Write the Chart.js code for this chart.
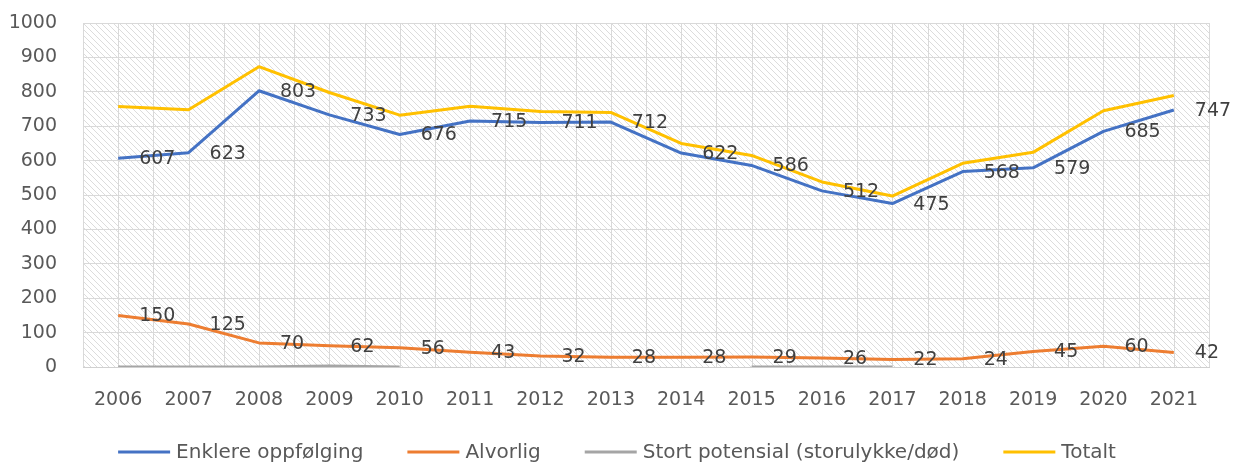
<!DOCTYPE html>
<html>
<head>
<meta charset="utf-8">
<script src="https://cdn.jsdelivr.net/npm/chart.js@4.4.0/dist/chart.umd.min.js"></script>
<style>
  html, body { margin: 0; padding: 0; background: #fff; }
</style>
</head>
<body>
<canvas id="chart" width="1234" height="464"></canvas>
<script>
// data
const years = ['2006', '2007', '2008', '2009', '2010', '2011', '2012', '2013', '2014', '2015', '2016', '2017', '2018', '2019', '2020', '2021'];
const seriesNames = ['Enklere oppfølging', 'Alvorlig', 'Stort potensial (storulykke/død)', 'Totalt'];
const enklere = [607, 623, 803, 733, 676, 715, 711, 712, 622, 586, 512, 475, 568, 579, 685, 747];
const alvorlig = [150, 125, 70, 62, 56, 43, 32, 28, 28, 29, 26, 22, 24, 45, 60, 42];
const stortPotensial = [0, 0, 0, 3, 0, null, null, null, null, 0, 0, 0, null, null, null, null];
const totalt = [757, 748, 873, 798, 732, 758, 743, 740, 650, 615, 538, 497, 592, 624, 745, 789];
const yTicks = [0, 100, 200, 300, 400, 500, 600, 700, 800, 900, 1000];

const colors = ['#4472C4', '#ED7D31', '#A5A5A5', '#FFC000'];
const fontFamily = '"DejaVu Sans", sans-serif';

// diagonal hatch for the plot area
function makeHatch() {
  const c = document.createElement('canvas');
  c.width = 6; c.height = 6;
  const g = c.getContext('2d');
  g.fillStyle = '#ffffff';
  g.fillRect(0, 0, 6, 6);
  g.strokeStyle = '#dcdcdc';
  g.lineWidth = 1;
  g.beginPath();
  g.moveTo(-1, -1); g.lineTo(7, 7);
  g.moveTo(5, -1); g.lineTo(7, 1);
  g.moveTo(-1, 5); g.lineTo(1, 7);
  g.stroke();
  return g.createPattern(c, 'repeat');
}

const plotBackground = {
  id: 'plotBackground',
  beforeDraw(chart) {
    const { ctx, chartArea: a } = chart;
    const x = chart.scales.x;
    ctx.save();
    ctx.fillStyle = '#ffffff';
    ctx.fillRect(0, 0, chart.width, chart.height);
    ctx.fillStyle = makeHatch();
    ctx.fillRect(a.left, a.top, a.right - a.left, a.bottom - a.top);
    // vertical grid: on each year and between years
    ctx.strokeStyle = '#d9d9d9';
    ctx.lineWidth = 1;
    ctx.beginPath();
    for (let i = 0; i <= years.length * 2; i++) {
      const px = Math.round(x.getPixelForValue(i / 2 - 0.5)) + 0.5;
      ctx.moveTo(px, a.top);
      ctx.lineTo(px, a.bottom);
    }
    ctx.stroke();
    ctx.restore();
  }
};

// value labels to the right of each point (first two series only)
const valueLabels = {
  id: 'valueLabels',
  afterDatasetsDraw(chart) {
    const ctx = chart.ctx;
    ctx.save();
    ctx.font = '19px ' + fontFamily;
    ctx.fillStyle = '#404040';
    ctx.textAlign = 'left';
    ctx.textBaseline = 'middle';
    [0, 1].forEach(di => {
      const meta = chart.getDatasetMeta(di);
      meta.data.forEach((pt, i) => {
        const v = chart.data.datasets[di].data[i];
        if (v == null) return;
        ctx.fillText(String(v), pt.x + 21, pt.y + 1);
      });
    });
    ctx.restore();
  }
};

// legend drawn by hand so the spacing matches
const bottomLegend = {
  id: 'bottomLegend',
  afterDraw(chart) {
    const ctx = chart.ctx;
    ctx.save();
    ctx.font = '20px ' + fontFamily;
    const lineLen = 52, gap = 6, spacing = 44;
    const widths = seriesNames.map(n => lineLen + gap + ctx.measureText(n).width);
    const total = widths.reduce((s, w) => s + w, 0) + spacing * (widths.length - 1);
    let x = (chart.width - total) / 2;
    const y = 452;
    seriesNames.forEach((n, i) => {
      ctx.strokeStyle = colors[i];
      ctx.lineWidth = 3;
      ctx.beginPath();
      ctx.moveTo(x, y);
      ctx.lineTo(x + lineLen, y);
      ctx.stroke();
      ctx.fillStyle = '#595959';
      ctx.textAlign = 'left';
      ctx.textBaseline = 'middle';
      ctx.fillText(n, x + lineLen + gap, y + 1);
      x += widths[i] + spacing;
    });
    ctx.restore();
  }
};

const seriesData = [enklere, alvorlig, stortPotensial, totalt];

new Chart(document.getElementById('chart'), {
  type: 'line',
  data: {
    labels: years,
    datasets: seriesData.map((d, i) => ({
      label: seriesNames[i],
      data: d,
      borderColor: colors[i],
      backgroundColor: colors[i],
      borderWidth: 3,
      pointRadius: 0,
      tension: 0,
      spanGaps: false,
      borderJoinStyle: 'round',
      order: 3 - i
    }))
  },
  options: {
    responsive: false,
    animation: false,
    layout: { padding: { left: 9, right: 25, top: 23, bottom: 53 } },
    plugins: {
      legend: { display: false },
      tooltip: { enabled: false }
    },
    scales: {
      x: {
        offset: true,
        afterFit(scale) { scale.height = 44; },
        grid: { display: false, drawTicks: false },
        border: { display: true, color: '#d0d0d0', width: 1 },
        ticks: {
          color: '#595959',
          padding: 22,
          maxRotation: 0,
          font: { family: fontFamily, size: 19 }
        }
      },
      y: {
        min: 0,
        max: 1000,
        afterBuildTicks(scale) {
          scale.ticks = yTicks.map(v => ({ value: v }));
        },
        afterFit(scale) {
          scale.width = 74;
          scale.paddingTop = 0;
          scale.paddingBottom = 0;
        },
        grid: { color: '#d9d9d9', drawTicks: false },
        border: { display: false },
        ticks: {
          color: '#595959',
          padding: 26,
          callback: v => String(v),
          font: { family: fontFamily, size: 19 }
        }
      }
    }
  },
  plugins: [plotBackground, valueLabels, bottomLegend]
});
</script>
</body>
</html>
